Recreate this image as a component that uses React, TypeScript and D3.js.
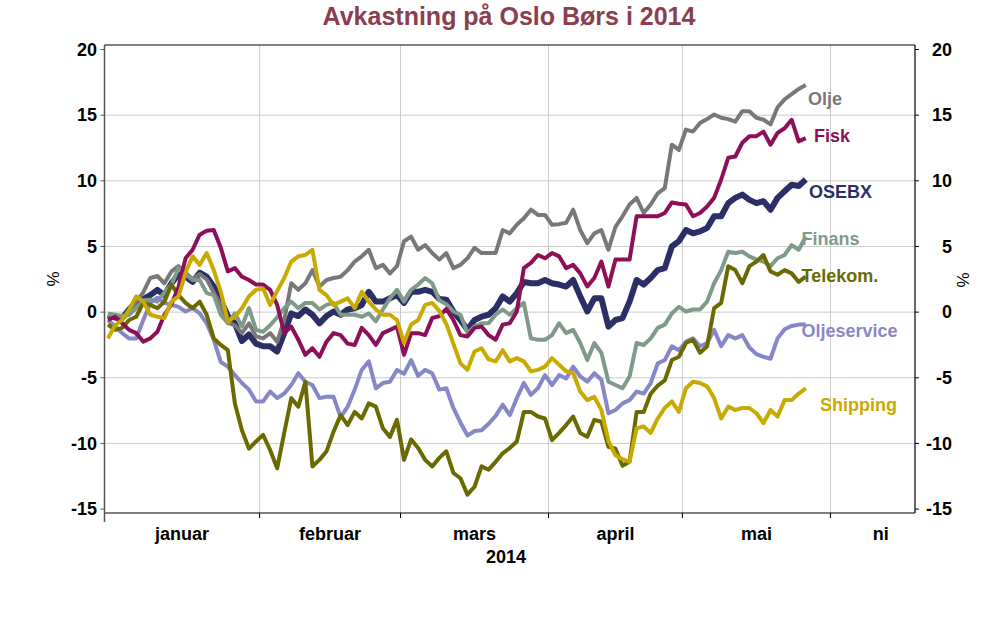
import React from "react";
import * as d3 from "d3";

const title = "Avkastning på Oslo Børs i 2014";
const months = ["januar", "februar", "mars", "april", "mai", "juni"];
const monthStarts = [0, 22, 42, 63, 82, 103, 115];
const yTicks = [-15, -10, -5, 0, 5, 10, 15, 20];
const yearLabel = "2014";

const osebx = [-0.2, -0.4, -0.45, 0.2, 0.8, 1.0, 1.3, 1.7, 1.3, 2.2, 2.85, 2.7, 2.3, 3.0, 2.7, 1.95, 0.9, -0.3, -0.85, -2.2,
  -1.7, -2.4, -2.6, -2.6, -3.0, -1.6, -0.1, -0.3, 0.2, -0.2, -0.85, -0.3, 0.05, -0.2, 0.2, 0.3, 0.55, 1.55, 0.8, 0.8,
  1.05, 1.3, 0.7, 1.55, 1.55, 1.7, 1.55, 1.0, 0.95, 0.05, -0.6, -1.35, -0.6, -0.35, -0.2, 0.3, 1.2, 0.8, 1.45, 2.3,
  2.2, 2.2, 2.45, 2.2, 2.1, 1.95, 2.45, 1.2, 0.05, 1.05, 1.05, -1.1, -0.6, -0.45, 0.8, 2.45, 2.1, 2.6, 3.2, 3.35,
  5.0, 5.4, 6.25, 6.0, 6.15, 6.4, 7.3, 7.3, 8.3, 8.7, 8.95, 8.55, 8.3, 8.45, 7.8, 8.7, 9.2, 9.7, 9.6, 10.1];

const olje = [-0.2, -0.5, -0.6, 0.0, 0.8, 1.5, 2.6, 2.75, 2.2, 3.1, 3.5, 3.0, 2.5, 2.9, 2.5, 1.5, 0.5, -0.8, -1.0, -1.6,
  -0.85, -1.85, -2.0, -1.6, -2.25, -0.6, 2.2, 1.7, 2.2, 3.2, 1.95, 2.45, 2.6, 2.7, 3.2, 3.85, 4.25, 4.75, 3.35, 3.6,
  2.95, 3.5, 5.4, 5.75, 4.75, 5.1, 4.5, 4.0, 4.5, 3.35, 3.6, 4.1, 4.9, 4.5, 4.5, 4.5, 6.25, 6.0, 6.65, 7.15,
  7.8, 7.4, 7.4, 6.65, 6.7, 6.8, 7.8, 6.25, 5.25, 6.0, 6.25, 4.75, 6.5, 7.3, 8.2, 8.7, 7.55, 8.2, 9.05, 9.45,
  12.75, 12.35, 13.9, 13.75, 14.4, 14.7, 15.05, 14.8, 14.7, 14.5, 15.3, 15.3, 14.8, 14.65, 14.3, 15.6, 16.2, 16.6, 17.0, 17.3];

const fisk = [-0.6, -0.35, -0.85, -1.35, -1.6, -2.25, -2.0, -1.5, -0.2, 0.6, 1.9, 4.1, 4.75, 5.9, 6.2, 6.25, 4.9, 3.1, 3.35, 2.7,
  2.45, 2.1, 2.1, 1.7, 0.55, -1.6, -1.1, -2.1, -3.25, -2.75, -3.4, -2.25, -1.6, -1.75, -2.4, -2.5, -1.2, -1.75, -2.5, -1.6,
  -1.35, -1.1, -3.25, -1.6, -1.6, -1.75, -0.45, -0.3, 0.25, -0.6, -1.75, -1.85, -1.2, -1.1, -1.75, -2.1, -0.95, -0.85, 0.05, 3.35,
  3.75, 4.35, 4.1, 4.5, 4.25, 3.35, 3.6, 2.95, 1.95, 2.6, 3.85, 1.95, 4.0, 4.0, 4.0, 7.3, 7.3, 7.3, 7.3, 7.55,
  8.35, 8.25, 8.2, 7.3, 7.55, 8.05, 8.7, 10.1, 11.75, 11.85, 12.9, 13.4, 13.4, 13.75, 12.75, 13.65, 14.0, 14.65, 13.0, 13.25];

const finans = [-0.1, -0.2, -0.3, -0.2, 0.3, 0.9, 0.95, 0.8, 1.5, 2.1, 3.35, 2.85, 2.45, 2.45, 1.45, 1.3, -0.2, -0.85, -0.1, -1.1,
  0.3, -1.35, -1.5, -1.0, -0.4, 0.3, 0.8, 0.3, 0.7, 0.7, 0.2, 0.55, 0.7, -0.2, -0.2, -0.2, -0.35, -0.1, -0.7, 0.2,
  1.05, 1.7, 0.8, 1.7, 2.1, 2.6, 2.2, 0.9, 0.6, 0.05, -0.2, -1.6, -1.1, -0.85, -0.85, -0.2, 0.2, -0.2, 0.3, 0.7,
  -2.0, -2.1, -2.1, -1.75, -0.85, -1.6, -1.35, -2.35, -3.65, -2.35, -3.1, -5.3, -5.55, -5.8, -4.9, -2.35, -2.5, -2.0, -1.2, -0.95,
  -0.1, 0.4, 0.05, 0.2, 0.2, 0.8, 2.2, 3.2, 4.6, 4.5, 4.6, 4.25, 4.0, 3.85, 3.5, 4.1, 4.35, 5.1, 4.75, 5.75];

const telekom = [-0.95, -1.35, -1.2, -0.6, -0.35, 0.7, 0.55, 0.3, 0.8, 2.1, 1.3, 0.7, 0.3, 0.8, -0.2, -2.0, -2.5, -2.9, -6.95, -9.0,
  -10.4, -9.85, -9.35, -10.5, -11.9, -9.2, -6.55, -7.2, -5.3, -11.75, -11.25, -10.6, -9.1, -7.85, -8.6, -7.6, -8.1, -6.95, -7.2, -8.85,
  -9.5, -8.2, -11.25, -9.7, -10.35, -11.25, -11.75, -11.1, -10.6, -12.25, -12.65, -13.9, -13.3, -11.75, -12.0, -11.4, -10.75, -10.35, -9.85, -7.6,
  -7.6, -7.95, -8.1, -9.75, -9.2, -8.6, -7.95, -9.2, -9.5, -8.2, -8.35, -10.25, -10.4, -11.7, -11.4, -7.6, -7.6, -6.2, -5.6, -5.2,
  -3.65, -3.4, -2.35, -2.1, -3.1, -2.6, 0.3, 0.7, 3.5, 3.2, 2.2, 3.5, 3.85, 4.35, 3.1, 2.85, 3.2, 2.95, 2.3, 2.7];

const oljeservice = [-0.6, -1.1, -1.6, -2.0, -2.0, -0.6, 0.7, 1.1, 0.7, 0.55, 0.4, 0.05, 0.3, -0.1, -0.85, -2.1, -3.8, -4.15, -4.8, -5.4,
  -5.9, -6.8, -6.8, -6.05, -6.55, -6.2, -5.55, -4.65, -5.3, -5.55, -6.55, -6.45, -6.45, -8.0, -7.2, -5.9, -4.4, -3.75, -5.8, -5.4,
  -5.3, -4.4, -4.7, -3.65, -4.85, -4.4, -4.65, -5.9, -5.8, -7.3, -8.4, -9.4, -9.05, -9.0, -8.5, -7.9, -7.05, -7.85, -6.55, -5.4,
  -6.3, -5.8, -4.8, -5.55, -4.8, -5.05, -4.15, -4.9, -5.3, -4.65, -5.15, -7.7, -7.45, -6.95, -6.7, -6.05, -6.2, -5.4, -3.9, -3.65,
  -2.6, -2.9, -2.25, -2.0, -2.6, -2.35, -1.35, -2.6, -1.75, -2.0, -1.75, -2.7, -3.2, -3.4, -3.55, -2.0, -1.3, -1.05, -0.95, -0.95];

const shipping = [-2.0, -1.0, -0.6, 0.2, 1.2, 0.8, -0.2, -0.35, -0.45, 0.8, 1.2, 3.0, 4.25, 3.6, 4.5, 3.2, 1.55, -0.7, -0.35, 0.3,
  1.2, 1.7, 1.8, 0.55, 1.6, 2.6, 3.85, 4.25, 4.35, 4.75, 1.7, 1.3, 0.55, 0.8, 1.05, 0.3, 1.55, 0.8, 0.2, -0.2,
  -0.2, -0.6, -2.35, -0.95, -0.6, 0.55, 0.7, 0.1, -0.9, -2.4, -3.9, -4.4, -3.0, -2.75, -3.6, -3.75, -2.9, -3.75, -3.5, -3.75,
  -4.5, -4.4, -4.15, -3.5, -4.0, -4.5, -4.65, -6.05, -6.7, -6.45, -7.45, -9.8, -10.9, -11.2, -11.4, -8.85, -8.7, -9.2, -8.1, -7.3,
  -6.8, -7.6, -5.8, -5.3, -5.4, -5.65, -6.55, -8.1, -7.2, -7.45, -7.3, -7.3, -7.7, -8.45, -7.45, -7.95, -6.7, -6.7, -6.2, -5.8];

const seriesNames = ["OSEBX", "Olje", "Finans", "Oljeservice", "Telekom.", "Fisk", "Shipping"];
const seriesData = [osebx, olje, finans, oljeservice, telekom, fisk, shipping];
const seriesColors = ["#2c2e66", "#787878", "#809a8a", "#8787c8", "#6a6a00", "#8c0f58", "#c8aa00"];
const seriesWidths = [6, 4, 4, 4, 4, 4, 4];
const labelPos: Record<string, [number, number]> = {
  "Olje": [808, 105],
  "Fisk": [814, 141.7],
  "OSEBX": [809, 198.3],
  "Finans": [801.5, 245],
  "Telekom.": [801.5, 281.7],
  "Oljeservice": [801.5, 336.7],
  "Shipping": [820, 410.7],
};

const FONT = "'Liberation Sans', Arial, Helvetica, sans-serif";

export default function App() {
  const left = 104.5, right = 915, top = 45, bottom = 513;
  const x = d3.scaleLinear().domain([0, 115]).range([left, right]);
  const y = d3.scaleLinear().domain([-15, 20]).range([509.1, 49.5]);
  const line = d3.line<number>().x((_, i) => x(i + 0.5)).y((d) => y(d));

  return (
    <svg width={1008} height={629} style={{ position: "absolute", left: 0, top: 0, background: "#fff" }} fontFamily={FONT}>
      <rect x={0} y={0} width={1008} height={629} fill="#fff" />
      <text x={509} y={25} textAnchor="middle" fontSize={25} fontWeight="bold" fill="#8c3d4e">{title}</text>

      {yTicks.filter((t) => t > -15 && t < 20).map((t) => (
        <line key={"gy" + t} x1={left} x2={right} y1={y(t)} y2={y(t)} stroke="#cccccc" strokeWidth={1} />
      ))}
      {monthStarts.slice(1, -1).map((m) => (
        <line key={"gx" + m} x1={x(m)} x2={x(m)} y1={top} y2={bottom} stroke="#cccccc" strokeWidth={1} />
      ))}

      <line x1={left} x2={right} y1={top} y2={top} stroke="#000" strokeWidth={1.2} />
      <line x1={right} x2={right} y1={top} y2={bottom} stroke="#000" strokeWidth={1.2} />
      <line x1={left} x2={right} y1={bottom} y2={bottom} stroke="#000" strokeWidth={1.2} />
      <line x1={left} x2={left} y1={top} y2={522} stroke="#555" strokeWidth={1.5} />

      {yTicks.map((t) => (
        <g key={"yt" + t}>
          <line x1={left - 4} x2={left} y1={y(t)} y2={y(t)} stroke="#555" strokeWidth={1} />
          <line x1={right} x2={right + 4} y1={y(t)} y2={y(t)} stroke="#000" strokeWidth={1} />
          <text x={97} y={y(t) + 6.3} textAnchor="end" fontSize={18} fontWeight="bold" fill="#000">{t}</text>
          <text x={952} y={y(t) + 6.3} textAnchor="end" fontSize={18} fontWeight="bold" fill="#000">{t}</text>
        </g>
      ))}
      <text transform="translate(59,279) rotate(-90)" textAnchor="middle" fontSize={17} fill="#000">%</text>
      <text transform="translate(969,280) rotate(-90)" textAnchor="middle" fontSize={17} fill="#000">%</text>

      {monthStarts.slice(1, -1).map((m) => (
        <line key={"xt" + m} x1={x(m)} x2={x(m)} y1={bottom} y2={bottom + 5} stroke="#000" strokeWidth={1} />
      ))}
      {months.map((mn, i) => (
        <text key={mn} x={x((monthStarts[i] + monthStarts[i + 1]) / 2)} y={540} textAnchor="middle" fontSize={18} fontWeight="bold" fill="#000">{mn}</text>
      ))}
      <rect x={848} y={522} width={24} height={26} fill="#fff" />
      <text x={506} y={563} textAnchor="middle" fontSize={18} fontWeight="bold" fill="#000">{yearLabel}</text>

      {seriesData.map((d, k) => (
        <path key={seriesNames[k]} d={line(d) || ""} fill="none" stroke={seriesColors[k]} strokeWidth={seriesWidths[k]} strokeLinejoin="round" strokeLinecap="butt" />
      ))}
      {seriesNames.map((n, k) => (
        <text key={"l" + n} x={labelPos[n][0]} y={labelPos[n][1]} fontSize={18} fontWeight="bold" fill={seriesColors[k]}>{n}</text>
      ))}
    </svg>
  );
}
